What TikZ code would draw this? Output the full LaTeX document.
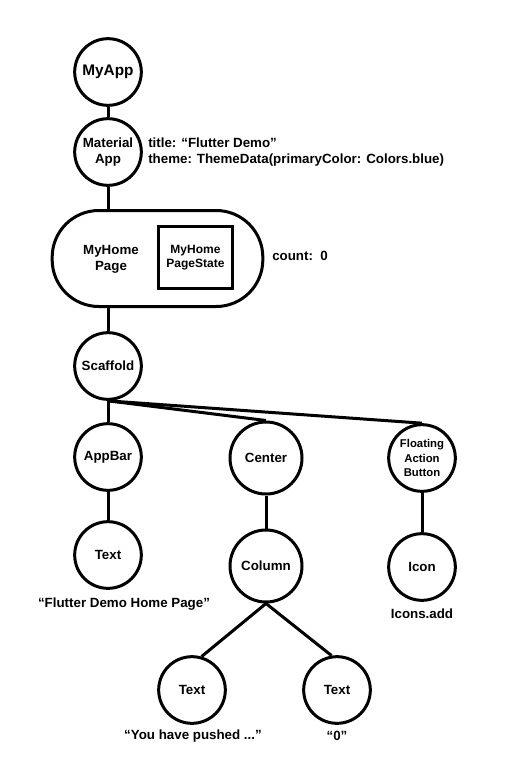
\documentclass[tikz,border=0pt]{standalone}
\usepackage{fontspec}
\setmainfont{Liberation Sans}

\begin{document}
\begin{tikzpicture}[x=0.75pt,y=0.75pt,yscale=-1,xscale=1,
  widget/.style={draw, circle, line width=2.25pt, minimum size=50pt, inner sep=0pt, align=center, font=\bfseries},
  link/.style={line width=2.25pt},
  note/.style={inner sep=0pt, font=\bfseries}]
\useasboundingbox (0,0) rectangle (512,768); %set diagram to 512 x 768

%Shape: Circle
\draw (108,72) node [widget, font=\bfseries\fontsize{11.5}{13}\selectfont] (myapp) {MyApp};
%Shape: Circle
\draw (108,152) node [widget] (material) {Material\\App};
%Shape: Rounded Rect
\draw (157.5,258.5) node [draw, line width=2.25pt, rounded corners=35pt, minimum width=158pt, minimum height=72pt] (homepage) {};
%Shape: Square
\draw (195.5,257.5) node [draw, line width=2.25pt, minimum width=55.5pt, minimum height=46.5pt, align=center, font=\bfseries\fontsize{9}{10.5}\selectfont] (state) {MyHome\\PageState};
%Shape: Circle
\draw (108,366) node [widget] (scaffold) {Scaffold};
%Shape: Circle
\draw (108,457) node [widget] (appbar) {AppBar};
%Shape: Circle
\draw (108,555) node [widget] (title) {Text};
%Shape: Circle
\draw (266,458) node [widget, minimum size=54pt] (center) {Center};
%Shape: Circle
\draw (266,566) node [widget, minimum size=54pt] (column) {Column};
%Shape: Circle
\draw (422,458) node [widget, font=\bfseries\fontsize{8.5}{11}\selectfont] (fab) {Floating\\Action\\Button};
%Shape: Circle
\draw (422,567) node [widget] (icon) {Icon};
%Shape: Circle
\draw (192,690) node [widget] (pushed) {Text};
%Shape: Circle
\draw (337,690) node [widget] (counter) {Text};

%Straight Lines
\draw [link] (myapp) -- (material);
\draw [link] (material.south) -- (material.south |- homepage.north);
\draw [link] (scaffold.north |- homepage.south) -- (scaffold.north);
\draw [link] (scaffold.south) -- (appbar.north);
\draw [link] (scaffold.south) -- (center.north);
\draw [link] (scaffold.south) -- (fab.north);
\draw [link] (appbar) -- (title);
\draw [link] (center) -- (column);
\draw [link] (fab) -- (icon);
\draw [link] (column.south) -- (pushed.74);
\draw [link] (column.south) -- (counter.99);

% Text Node
\draw (111,259) node [note, align=center] (homelabel) {MyHome\\Page};
% Text Node
\draw (148,152.5) node [note, anchor=west, align=left] (materialnote) {title: “Flutter Demo”\\theme: ThemeData(primaryColor: Colors.blue)};
% Text Node
\draw (272,256) node [note, anchor=west] (countnote) {count:\ \ 0};
% Text Node
\draw (124,604) node [note] (titlenote) {“Flutter Demo Home Page”};
% Text Node
\draw (422,614) node [note] (iconnote) {Icons.add};
% Text Node
\draw (193,736) node [note] (pushednote) {“You have pushed ...”};
% Text Node
\draw (337,736) node [note] (counternote) {“0”};

\end{tikzpicture}
\end{document}
